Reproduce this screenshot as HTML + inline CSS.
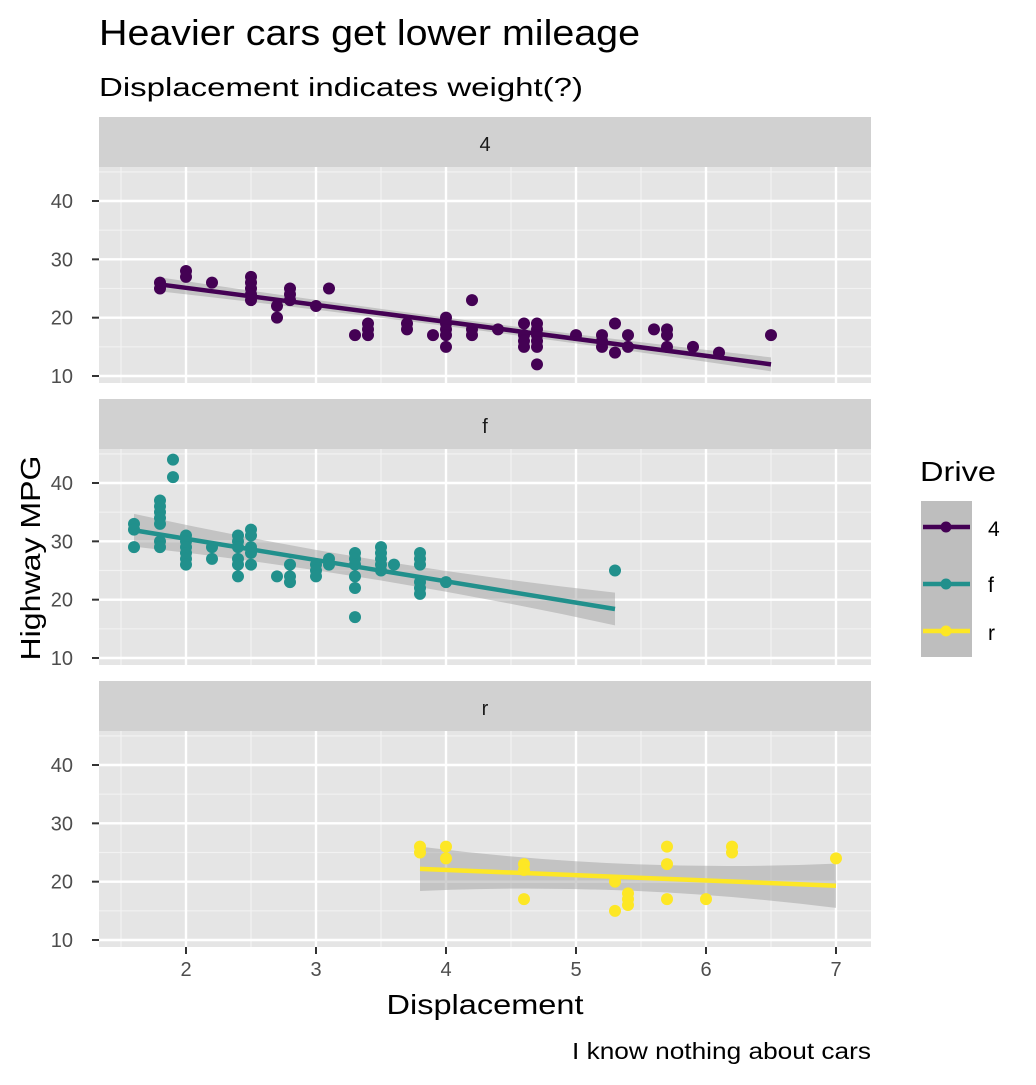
<!DOCTYPE html>
<html><head><meta charset="utf-8"><style>
body{margin:0;background:#fff}
svg text{font-family:"Liberation Sans",Arial,sans-serif}
</style></head><body>
<svg id="s" width="1036" height="1080" xmlns="http://www.w3.org/2000/svg">
<rect width="1036" height="1080" fill="#fff"/>
<text x="99" y="45" font-size="36" fill="#000" textLength="541" lengthAdjust="spacingAndGlyphs">Heavier cars get lower mileage</text>
<text x="99" y="96" font-size="26" fill="#000" textLength="484" lengthAdjust="spacingAndGlyphs">Displacement indicates weight(?)</text>
<g id="g"></g>
<text transform="translate(40,558) rotate(-90)" text-anchor="middle" font-size="28" fill="#000" textLength="205" lengthAdjust="spacingAndGlyphs">Highway MPG</text>
<text x="485" y="1014" text-anchor="middle" font-size="28" fill="#000" textLength="197" lengthAdjust="spacingAndGlyphs">Displacement</text>
<text x="871" y="1059" text-anchor="end" font-size="23" fill="#000" textLength="299" lengthAdjust="spacingAndGlyphs">I know nothing about cars</text>
<text x="920" y="481" font-size="28" fill="#000" textLength="76" lengthAdjust="spacingAndGlyphs">Drive</text>
<rect x="921" y="501" width="51" height="156" fill="#bebebe"/>
<line x1="923" y1="527" x2="970" y2="527" stroke="#440154" stroke-width="4.5"/><circle cx="946" cy="527" r="5.5" fill="#440154"/>
<line x1="923" y1="584" x2="970" y2="584" stroke="#21908C" stroke-width="4.5"/><circle cx="946" cy="584" r="5.5" fill="#21908C"/>
<line x1="923" y1="631" x2="970" y2="631" stroke="#FDE725" stroke-width="4.5"/><circle cx="946" cy="631" r="5.5" fill="#FDE725"/>
<text x="988" y="536" font-size="21">4</text>
<text x="988" y="592" font-size="21">f</text>
<text x="988" y="640" font-size="21">r</text>
</svg>
<script>
var g=document.getElementById("g"),h="";
function X(v){return 186+(v-2)*130}
var panels=[
{lab:"4",off:0,col:"#440154",line:[1.8,25.7,6.5,12],rib:1.2,
pts:{1.8:[26,25],2.0:[28,27],2.2:[26],2.5:[27,26,25,24,23],2.7:[22,20],2.8:[25,24,23],3.0:[22],3.1:[25],3.3:[17],3.4:[19,18,17],3.7:[19,18],3.9:[17],4.0:[20,19,18,17,15],4.2:[23,17,18],4.4:[18],4.6:[19,17,16,15],4.7:[19,18,17,16,15,12],5.0:[17],5.2:[17,15,16],5.3:[19,14],5.4:[17,15],5.6:[18],5.7:[18,17,15],5.9:[15],6.1:[14],6.5:[17]}},
{lab:"f",off:282,col:"#21908C",line:[1.6,31.9,5.3,18.4],rib:2.8,
pts:{1.6:[33,32,29],1.8:[37,36,35,34,33,30,29],1.9:[44,41],2.0:[31,30,29,28,27,26],2.2:[29,27],2.4:[31,30,29,27,26,24],2.5:[32,31,29,28,26],2.7:[24],2.8:[26,24,23],3.0:[26,25,24],3.1:[27,26],3.3:[28,27,26,24,22,17],3.5:[29,28,27,26,25],3.6:[26],3.8:[28,27,26,23,22,21],4.0:[23],5.3:[25]}},
{lab:"r",off:564,col:"#FDE725",line:[3.8,22.2,7.0,19.3],rib:3.8,
pts:{3.8:[26,25],4.0:[26,24],4.6:[23,22,17],5.3:[20,15],5.4:[18,17,16],5.7:[26,23,17],6.0:[17],6.2:[26,25],7.0:[24]}}];
panels.forEach(function(p){
 var o=p.off,Y=function(v){return 376+o-(v-10)*5.833};
 h+='<rect x="99" y="'+(117+o)+'" width="772" height="50" fill="#d1d1d1"/>';
 h+='<text x="485" y="'+(151+o)+'" text-anchor="middle" font-size="20" fill="#1a1a1a">'+p.lab+'</text>';
 h+='<rect x="99" y="'+(167+o)+'" width="772" height="216" fill="#e5e5e5"/>';
 for(var v=1.5;v<=6.6;v+=1)h+='<line x1="'+X(v)+'" x2="'+X(v)+'" y1="'+(167+o)+'" y2="'+(383+o)+'" stroke="#f2f2f2" stroke-width="1.2"/>';
 [15,25,35,45].forEach(function(v){h+='<line x1="99" x2="871" y1="'+Y(v)+'" y2="'+Y(v)+'" stroke="#f2f2f2" stroke-width="1.2"/>'});
 for(var v=2;v<=7;v++)h+='<line x1="'+X(v)+'" x2="'+X(v)+'" y1="'+(167+o)+'" y2="'+(383+o)+'" stroke="#fff" stroke-width="2.4"/>';
 [10,20,30,40].forEach(function(v){h+='<line x1="99" x2="871" y1="'+Y(v)+'" y2="'+Y(v)+'" stroke="#fff" stroke-width="2.4"/>';
  h+='<line x1="92" x2="99" y1="'+Y(v)+'" y2="'+Y(v)+'" stroke="#333" stroke-width="2"/>';
  h+='<text x="73" y="'+(Y(v)+7)+'" text-anchor="end" font-size="20" fill="#4d4d4d">'+v+'</text>'});
 var l=p.line,r=p.rib,xm=(l[0]+l[2])/2,ym=(l[1]+l[3])/2;
 h+='<path d="M'+X(l[0])+','+Y(l[1]+r)+' Q'+X(xm)+','+Y(ym+r*0.2)+' '+X(l[2])+','+Y(l[3]+r)+' L'+X(l[2])+','+Y(l[3]-r)+' Q'+X(xm)+','+Y(ym-r*0.2)+' '+X(l[0])+','+Y(l[1]-r)+'Z" fill="#999" fill-opacity="0.45"/>';
 for(var k in p.pts)p.pts[k].forEach(function(v){h+='<circle cx="'+X(+k)+'" cy="'+Y(v)+'" r="6" fill="'+p.col+'"/>'});
 h+='<line x1="'+X(l[0])+'" y1="'+Y(l[1])+'" x2="'+X(l[2])+'" y2="'+Y(l[3])+'" stroke="'+p.col+'" stroke-width="4.5"/>';
});
for(var v=2;v<=7;v++){h+='<line x1="'+X(v)+'" x2="'+X(v)+'" y1="947" y2="954" stroke="#333" stroke-width="2"/>';
 h+='<text x="'+X(v)+'" y="976" text-anchor="middle" font-size="20" fill="#4d4d4d">'+v+'</text>'}
g.innerHTML=h;
</script>
</body></html>
